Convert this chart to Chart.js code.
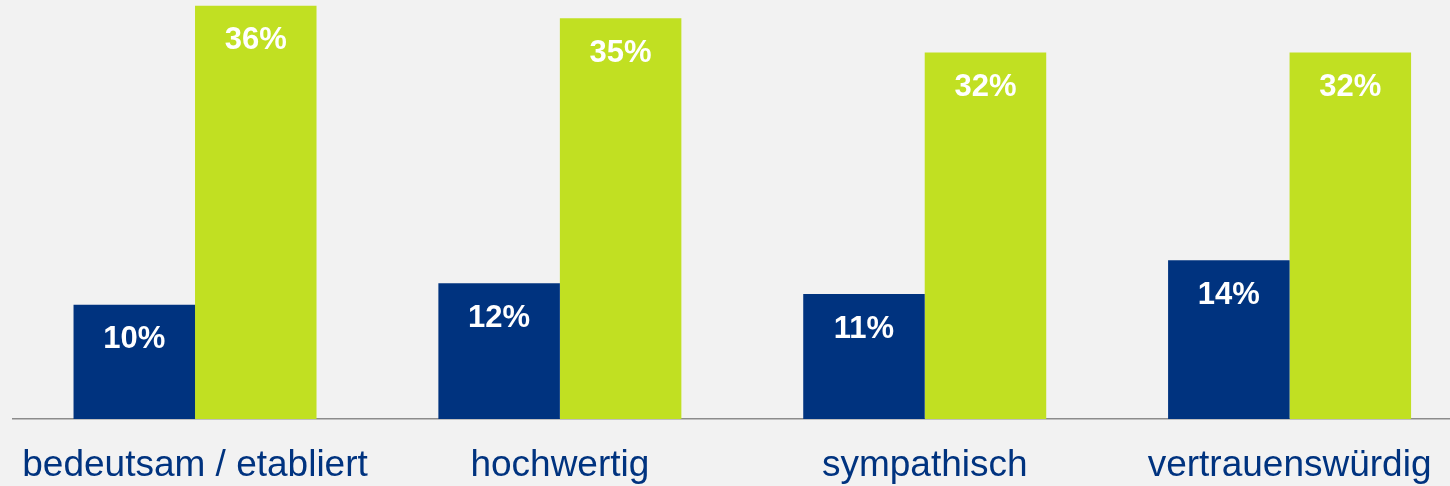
<!DOCTYPE html>
<html>
<head>
<meta charset="utf-8">
<script src="https://cdn.jsdelivr.net/npm/chart.js@4.4.0/dist/chart.umd.min.js"></script>
<style>
  html, body { margin: 0; padding: 0; background: #f2f2f2; overflow: hidden; }
  #wrap { position: relative; width: 1472px; height: 486px; }
</style>
</head>
<body>
<div id="wrap"><canvas id="chart"></canvas></div>
<script>
// categories and values (percent)
const categories = ['bedeutsam / etabliert', 'hochwertig', 'sympathisch', 'vertrauenswürdig'];
const seriesBlue  = [10.0, 11.9, 10.95, 13.9];
const seriesGreen = [36.2, 35.1, 32.1, 32.1];

const BLUE  = '#00337f';
const GREEN = '#c1e022';

// white value labels near the top of each bar
const valueLabels = {
  id: 'valueLabels',
  afterDatasetsDraw(chart) {
    const ctx = chart.ctx;
    ctx.save();
    ctx.fillStyle = '#ffffff';
    ctx.font = 'bold 31px "Liberation Sans", Arial, sans-serif';
    ctx.textAlign = 'center';
    ctx.textBaseline = 'middle';
    chart.data.datasets.forEach((ds, i) => {
      chart.getDatasetMeta(i).data.forEach((bar, j) => {
        ctx.fillText(Math.round(ds.data[j]) + '%', bar.x, bar.y + 35);
      });
    });
    ctx.restore();
  }
};

new Chart(document.getElementById('chart'), {
  type: 'bar',
  data: {
    labels: categories,
    datasets: [
      { data: seriesBlue,  backgroundColor: BLUE,  categoryPercentage: 0.666, barPercentage: 1 },
      { data: seriesGreen, backgroundColor: GREEN, categoryPercentage: 0.666, barPercentage: 1 }
    ]
  },
  options: {
    responsive: true, maintainAspectRatio: false, animation: false,
    layout: { padding: { left: 12.6, right: 0, top: 0, bottom: 0 } },
    plugins: { legend: { display: false }, tooltip: { enabled: false } },
    scales: {
      x: {
        grid: { display: false, drawTicks: false },
        border: { display: true, color: '#8c8c8c', width: 1.5 },
        ticks: {
          color: '#00337f', padding: 25, maxRotation: 0, autoSkip: false,
          font: { family: '"Liberation Sans", Arial, sans-serif', size: 37 }
        },
        afterFit: s => { s.height = 67; s.paddingLeft = 0; s.paddingRight = 0; }
      },
      y: { display: false, min: 0, max: 36.7 }
    }
  },
  plugins: [valueLabels]
});
</script>
</body>
</html>
